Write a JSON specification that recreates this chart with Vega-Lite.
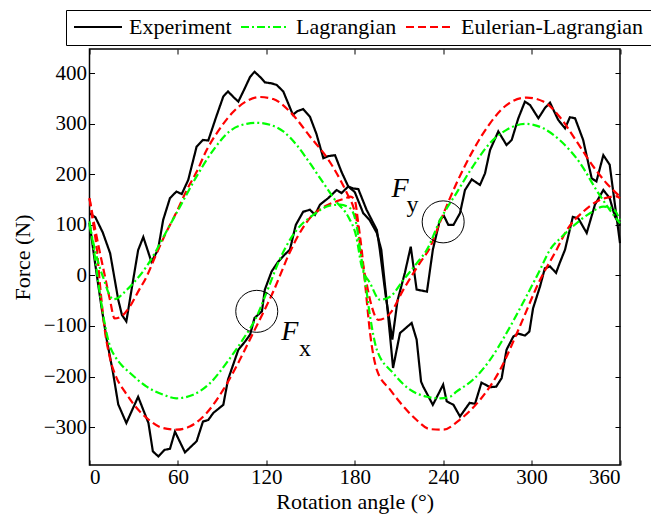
{
  "$schema": "https://vega.github.io/schema/vega-lite/v6.json",
  "width": 530.5,
  "height": 416,
  "autosize": {"type": "none"},
  "padding": {"left": 89.5, "top": 49, "right": 31, "bottom": 57},
  "background": "white",
  "config": {
    "view": {"stroke": "black", "strokeWidth": 1.5},
    "font": "Liberation Serif",
    "axis": {
      "labelFont": "Liberation Serif", "labelFontSize": 21, "labelColor": "black",
      "titleFont": "Liberation Serif", "titleFontSize": 22, "titleFontWeight": "normal", "titleColor": "black",
      "tickColor": "black", "tickSize": -5, "tickWidth": 1, "domain": false, "grid": false
    },
    "legend": {"labelFont": "Liberation Serif", "labelLimit": 0}
  },
  "datasets": {
    "models": [
      {"series": "Eulerian-Lagrangian", "comp": "Fy", "x": 0, "y": 153}, {"series": "Eulerian-Lagrangian", "comp": "Fy", "x": 3, "y": 105}, {"series": "Eulerian-Lagrangian", "comp": "Fy", "x": 6, "y": 60}, {"series": "Eulerian-Lagrangian", "comp": "Fy", "x": 10, "y": 5}, {"series": "Eulerian-Lagrangian", "comp": "Fy", "x": 14, "y": -50}, {"series": "Eulerian-Lagrangian", "comp": "Fy", "x": 17, "y": -85}, {"series": "Eulerian-Lagrangian", "comp": "Fy", "x": 21, "y": -82}, {"series": "Eulerian-Lagrangian", "comp": "Fy", "x": 27.5, "y": -61}, {"series": "Eulerian-Lagrangian", "comp": "Fy", "x": 33, "y": -32}, {"series": "Eulerian-Lagrangian", "comp": "Fy", "x": 38.8, "y": -2}, {"series": "Eulerian-Lagrangian", "comp": "Fy", "x": 45, "y": 40}, {"series": "Eulerian-Lagrangian", "comp": "Fy", "x": 52, "y": 85}, {"series": "Eulerian-Lagrangian", "comp": "Fy", "x": 59, "y": 125}, {"series": "Eulerian-Lagrangian", "comp": "Fy", "x": 66, "y": 169}, {"series": "Eulerian-Lagrangian", "comp": "Fy", "x": 72.7, "y": 205}, {"series": "Eulerian-Lagrangian", "comp": "Fy", "x": 79.5, "y": 248}, {"series": "Eulerian-Lagrangian", "comp": "Fy", "x": 88.6, "y": 291}, {"series": "Eulerian-Lagrangian", "comp": "Fy", "x": 97.6, "y": 324}, {"series": "Eulerian-Lagrangian", "comp": "Fy", "x": 106.7, "y": 345}, {"series": "Eulerian-Lagrangian", "comp": "Fy", "x": 115.7, "y": 353}, {"series": "Eulerian-Lagrangian", "comp": "Fy", "x": 124.7, "y": 349}, {"series": "Eulerian-Lagrangian", "comp": "Fy", "x": 136, "y": 324}, {"series": "Eulerian-Lagrangian", "comp": "Fy", "x": 149.6, "y": 275}, {"series": "Eulerian-Lagrangian", "comp": "Fy", "x": 163, "y": 225}, {"series": "Eulerian-Lagrangian", "comp": "Fy", "x": 172, "y": 179}, {"series": "Eulerian-Lagrangian", "comp": "Fy", "x": 176, "y": 155}, {"series": "Eulerian-Lagrangian", "comp": "Fy", "x": 179, "y": 136}, {"series": "Eulerian-Lagrangian", "comp": "Fy", "x": 182.4, "y": 90}, {"series": "Eulerian-Lagrangian", "comp": "Fy", "x": 184, "y": 51}, {"series": "Eulerian-Lagrangian", "comp": "Fy", "x": 188, "y": -15}, {"series": "Eulerian-Lagrangian", "comp": "Fy", "x": 191.5, "y": -61}, {"series": "Eulerian-Lagrangian", "comp": "Fy", "x": 196, "y": -88}, {"series": "Eulerian-Lagrangian", "comp": "Fy", "x": 204, "y": -75}, {"series": "Eulerian-Lagrangian", "comp": "Fy", "x": 213, "y": -28}, {"series": "Eulerian-Lagrangian", "comp": "Fy", "x": 224, "y": 24}, {"series": "Eulerian-Lagrangian", "comp": "Fy", "x": 231, "y": 55}, {"series": "Eulerian-Lagrangian", "comp": "Fy", "x": 237.8, "y": 105}, {"series": "Eulerian-Lagrangian", "comp": "Fy", "x": 249, "y": 182}, {"series": "Eulerian-Lagrangian", "comp": "Fy", "x": 260.4, "y": 248}, {"series": "Eulerian-Lagrangian", "comp": "Fy", "x": 271.8, "y": 301}, {"series": "Eulerian-Lagrangian", "comp": "Fy", "x": 283, "y": 337}, {"series": "Eulerian-Lagrangian", "comp": "Fy", "x": 296.7, "y": 352}, {"series": "Eulerian-Lagrangian", "comp": "Fy", "x": 308, "y": 344}, {"series": "Eulerian-Lagrangian", "comp": "Fy", "x": 319, "y": 314}, {"series": "Eulerian-Lagrangian", "comp": "Fy", "x": 330.6, "y": 265}, {"series": "Eulerian-Lagrangian", "comp": "Fy", "x": 342, "y": 215}, {"series": "Eulerian-Lagrangian", "comp": "Fy", "x": 351, "y": 182}, {"series": "Eulerian-Lagrangian", "comp": "Fy", "x": 360, "y": 156},
      {"series": "Eulerian-Lagrangian", "comp": "Fx", "x": 0, "y": 152}, {"series": "Eulerian-Lagrangian", "comp": "Fx", "x": 2.5, "y": 103}, {"series": "Eulerian-Lagrangian", "comp": "Fx", "x": 5, "y": 51}, {"series": "Eulerian-Lagrangian", "comp": "Fx", "x": 7, "y": -15}, {"series": "Eulerian-Lagrangian", "comp": "Fx", "x": 10.5, "y": -110}, {"series": "Eulerian-Lagrangian", "comp": "Fx", "x": 14, "y": -165}, {"series": "Eulerian-Lagrangian", "comp": "Fx", "x": 18, "y": -200}, {"series": "Eulerian-Lagrangian", "comp": "Fx", "x": 24, "y": -230}, {"series": "Eulerian-Lagrangian", "comp": "Fx", "x": 30, "y": -255}, {"series": "Eulerian-Lagrangian", "comp": "Fx", "x": 38.8, "y": -282}, {"series": "Eulerian-Lagrangian", "comp": "Fx", "x": 50, "y": -302}, {"series": "Eulerian-Lagrangian", "comp": "Fx", "x": 59, "y": -305}, {"series": "Eulerian-Lagrangian", "comp": "Fx", "x": 68, "y": -299}, {"series": "Eulerian-Lagrangian", "comp": "Fx", "x": 79.5, "y": -272}, {"series": "Eulerian-Lagrangian", "comp": "Fx", "x": 90.8, "y": -226}, {"series": "Eulerian-Lagrangian", "comp": "Fx", "x": 102, "y": -167}, {"series": "Eulerian-Lagrangian", "comp": "Fx", "x": 111, "y": -114}, {"series": "Eulerian-Lagrangian", "comp": "Fx", "x": 120, "y": -61}, {"series": "Eulerian-Lagrangian", "comp": "Fx", "x": 125, "y": -30}, {"series": "Eulerian-Lagrangian", "comp": "Fx", "x": 130, "y": 5}, {"series": "Eulerian-Lagrangian", "comp": "Fx", "x": 135, "y": 40}, {"series": "Eulerian-Lagrangian", "comp": "Fx", "x": 140, "y": 70}, {"series": "Eulerian-Lagrangian", "comp": "Fx", "x": 145, "y": 95}, {"series": "Eulerian-Lagrangian", "comp": "Fx", "x": 150, "y": 115}, {"series": "Eulerian-Lagrangian", "comp": "Fx", "x": 156, "y": 130}, {"series": "Eulerian-Lagrangian", "comp": "Fx", "x": 162, "y": 140}, {"series": "Eulerian-Lagrangian", "comp": "Fx", "x": 168, "y": 147}, {"series": "Eulerian-Lagrangian", "comp": "Fx", "x": 174, "y": 153}, {"series": "Eulerian-Lagrangian", "comp": "Fx", "x": 177, "y": 156}, {"series": "Eulerian-Lagrangian", "comp": "Fx", "x": 180, "y": 149}, {"series": "Eulerian-Lagrangian", "comp": "Fx", "x": 182.4, "y": 103}, {"series": "Eulerian-Lagrangian", "comp": "Fx", "x": 184.7, "y": 51}, {"series": "Eulerian-Lagrangian", "comp": "Fx", "x": 187, "y": -15}, {"series": "Eulerian-Lagrangian", "comp": "Fx", "x": 190.4, "y": -114}, {"series": "Eulerian-Lagrangian", "comp": "Fx", "x": 195, "y": -187}, {"series": "Eulerian-Lagrangian", "comp": "Fx", "x": 204, "y": -226}, {"series": "Eulerian-Lagrangian", "comp": "Fx", "x": 213, "y": -259}, {"series": "Eulerian-Lagrangian", "comp": "Fx", "x": 222, "y": -286}, {"series": "Eulerian-Lagrangian", "comp": "Fx", "x": 231, "y": -304}, {"series": "Eulerian-Lagrangian", "comp": "Fx", "x": 240, "y": -305}, {"series": "Eulerian-Lagrangian", "comp": "Fx", "x": 251, "y": -286}, {"series": "Eulerian-Lagrangian", "comp": "Fx", "x": 265, "y": -246}, {"series": "Eulerian-Lagrangian", "comp": "Fx", "x": 278.6, "y": -187}, {"series": "Eulerian-Lagrangian", "comp": "Fx", "x": 292, "y": -101}, {"series": "Eulerian-Lagrangian", "comp": "Fx", "x": 305.7, "y": -9}, {"series": "Eulerian-Lagrangian", "comp": "Fx", "x": 317, "y": 51}, {"series": "Eulerian-Lagrangian", "comp": "Fx", "x": 324, "y": 90}, {"series": "Eulerian-Lagrangian", "comp": "Fx", "x": 335, "y": 126}, {"series": "Eulerian-Lagrangian", "comp": "Fx", "x": 346, "y": 149}, {"series": "Eulerian-Lagrangian", "comp": "Fx", "x": 353, "y": 155}, {"series": "Eulerian-Lagrangian", "comp": "Fx", "x": 357, "y": 157}, {"series": "Eulerian-Lagrangian", "comp": "Fx", "x": 360, "y": 153},
      {"series": "Lagrangian", "comp": "Fy", "x": 0, "y": 100}, {"series": "Lagrangian", "comp": "Fy", "x": 3, "y": 60}, {"series": "Lagrangian", "comp": "Fy", "x": 6, "y": 25}, {"series": "Lagrangian", "comp": "Fy", "x": 10, "y": -10}, {"series": "Lagrangian", "comp": "Fy", "x": 13, "y": -35}, {"series": "Lagrangian", "comp": "Fy", "x": 16, "y": -47}, {"series": "Lagrangian", "comp": "Fy", "x": 19, "y": -45}, {"series": "Lagrangian", "comp": "Fy", "x": 23, "y": -35}, {"series": "Lagrangian", "comp": "Fy", "x": 29.7, "y": -15}, {"series": "Lagrangian", "comp": "Fy", "x": 38.8, "y": 18}, {"series": "Lagrangian", "comp": "Fy", "x": 45.6, "y": 51}, {"series": "Lagrangian", "comp": "Fy", "x": 50, "y": 75}, {"series": "Lagrangian", "comp": "Fy", "x": 61.4, "y": 136}, {"series": "Lagrangian", "comp": "Fy", "x": 72.7, "y": 196}, {"series": "Lagrangian", "comp": "Fy", "x": 84, "y": 248}, {"series": "Lagrangian", "comp": "Fy", "x": 95, "y": 285}, {"series": "Lagrangian", "comp": "Fy", "x": 106.7, "y": 300}, {"series": "Lagrangian", "comp": "Fy", "x": 113.5, "y": 302}, {"series": "Lagrangian", "comp": "Fy", "x": 122.5, "y": 298}, {"series": "Lagrangian", "comp": "Fy", "x": 131.5, "y": 285}, {"series": "Lagrangian", "comp": "Fy", "x": 140.6, "y": 258}, {"series": "Lagrangian", "comp": "Fy", "x": 149.6, "y": 222}, {"series": "Lagrangian", "comp": "Fy", "x": 158.7, "y": 183}, {"series": "Lagrangian", "comp": "Fy", "x": 167.7, "y": 145}, {"series": "Lagrangian", "comp": "Fy", "x": 175.6, "y": 116}, {"series": "Lagrangian", "comp": "Fy", "x": 181, "y": 77}, {"series": "Lagrangian", "comp": "Fy", "x": 184.7, "y": 18}, {"series": "Lagrangian", "comp": "Fy", "x": 190.4, "y": -15}, {"series": "Lagrangian", "comp": "Fy", "x": 197, "y": -48}, {"series": "Lagrangian", "comp": "Fy", "x": 204, "y": -42}, {"series": "Lagrangian", "comp": "Fy", "x": 213, "y": -9}, {"series": "Lagrangian", "comp": "Fy", "x": 222, "y": 24}, {"series": "Lagrangian", "comp": "Fy", "x": 229, "y": 51}, {"series": "Lagrangian", "comp": "Fy", "x": 238, "y": 110}, {"series": "Lagrangian", "comp": "Fy", "x": 249, "y": 163}, {"series": "Lagrangian", "comp": "Fy", "x": 260, "y": 215}, {"series": "Lagrangian", "comp": "Fy", "x": 271.8, "y": 262}, {"series": "Lagrangian", "comp": "Fy", "x": 283, "y": 288}, {"series": "Lagrangian", "comp": "Fy", "x": 295.5, "y": 300}, {"series": "Lagrangian", "comp": "Fy", "x": 308, "y": 291}, {"series": "Lagrangian", "comp": "Fy", "x": 319, "y": 268}, {"series": "Lagrangian", "comp": "Fy", "x": 333, "y": 222}, {"series": "Lagrangian", "comp": "Fy", "x": 344, "y": 169}, {"series": "Lagrangian", "comp": "Fy", "x": 353, "y": 130}, {"series": "Lagrangian", "comp": "Fy", "x": 360, "y": 103},
      {"series": "Lagrangian", "comp": "Fx", "x": 0, "y": 107}, {"series": "Lagrangian", "comp": "Fx", "x": 3, "y": 50}, {"series": "Lagrangian", "comp": "Fx", "x": 7, "y": -35}, {"series": "Lagrangian", "comp": "Fx", "x": 10, "y": -90}, {"series": "Lagrangian", "comp": "Fx", "x": 14, "y": -141}, {"series": "Lagrangian", "comp": "Fx", "x": 17.3, "y": -160}, {"series": "Lagrangian", "comp": "Fx", "x": 22, "y": -178}, {"series": "Lagrangian", "comp": "Fx", "x": 27.5, "y": -193}, {"series": "Lagrangian", "comp": "Fx", "x": 38.8, "y": -220}, {"series": "Lagrangian", "comp": "Fx", "x": 50, "y": -236}, {"series": "Lagrangian", "comp": "Fx", "x": 59, "y": -243}, {"series": "Lagrangian", "comp": "Fx", "x": 70.4, "y": -236}, {"series": "Lagrangian", "comp": "Fx", "x": 81.8, "y": -213}, {"series": "Lagrangian", "comp": "Fx", "x": 93, "y": -173}, {"series": "Lagrangian", "comp": "Fx", "x": 104, "y": -127}, {"series": "Lagrangian", "comp": "Fx", "x": 113.5, "y": -81}, {"series": "Lagrangian", "comp": "Fx", "x": 120, "y": -35}, {"series": "Lagrangian", "comp": "Fx", "x": 129, "y": 31}, {"series": "Lagrangian", "comp": "Fx", "x": 133, "y": 55}, {"series": "Lagrangian", "comp": "Fx", "x": 140.6, "y": 90}, {"series": "Lagrangian", "comp": "Fx", "x": 151.9, "y": 120}, {"series": "Lagrangian", "comp": "Fx", "x": 163, "y": 138}, {"series": "Lagrangian", "comp": "Fx", "x": 170, "y": 140}, {"series": "Lagrangian", "comp": "Fx", "x": 176.8, "y": 133}, {"series": "Lagrangian", "comp": "Fx", "x": 181, "y": 103}, {"series": "Lagrangian", "comp": "Fx", "x": 183.6, "y": 51}, {"series": "Lagrangian", "comp": "Fx", "x": 187, "y": -10}, {"series": "Lagrangian", "comp": "Fx", "x": 190.4, "y": -81}, {"series": "Lagrangian", "comp": "Fx", "x": 195, "y": -147}, {"series": "Lagrangian", "comp": "Fx", "x": 206, "y": -193}, {"series": "Lagrangian", "comp": "Fx", "x": 217.5, "y": -226}, {"series": "Lagrangian", "comp": "Fx", "x": 229, "y": -240}, {"series": "Lagrangian", "comp": "Fx", "x": 238, "y": -243}, {"series": "Lagrangian", "comp": "Fx", "x": 244.6, "y": -240}, {"series": "Lagrangian", "comp": "Fx", "x": 249, "y": -230}, {"series": "Lagrangian", "comp": "Fx", "x": 260.4, "y": -206}, {"series": "Lagrangian", "comp": "Fx", "x": 271.8, "y": -167}, {"series": "Lagrangian", "comp": "Fx", "x": 283, "y": -114}, {"series": "Lagrangian", "comp": "Fx", "x": 294, "y": -55}, {"series": "Lagrangian", "comp": "Fx", "x": 305.7, "y": 11}, {"series": "Lagrangian", "comp": "Fx", "x": 312.5, "y": 51}, {"series": "Lagrangian", "comp": "Fx", "x": 320, "y": 75}, {"series": "Lagrangian", "comp": "Fx", "x": 328, "y": 97}, {"series": "Lagrangian", "comp": "Fx", "x": 339.6, "y": 123}, {"series": "Lagrangian", "comp": "Fx", "x": 348.7, "y": 136}, {"series": "Lagrangian", "comp": "Fx", "x": 355, "y": 133}, {"series": "Lagrangian", "comp": "Fx", "x": 360, "y": 110}
    ],
    "experiment": [
      {"series": "Experiment", "comp": "Fy", "x": 0, "y": 123}, {"series": "Experiment", "comp": "Fy", "x": 4, "y": 115}, {"series": "Experiment", "comp": "Fy", "x": 9, "y": 85}, {"series": "Experiment", "comp": "Fy", "x": 14, "y": 44}, {"series": "Experiment", "comp": "Fy", "x": 19.5, "y": -48}, {"series": "Experiment", "comp": "Fy", "x": 22, "y": -78}, {"series": "Experiment", "comp": "Fy", "x": 25, "y": -91}, {"series": "Experiment", "comp": "Fy", "x": 29, "y": -20}, {"series": "Experiment", "comp": "Fy", "x": 33, "y": 50}, {"series": "Experiment", "comp": "Fy", "x": 36.5, "y": 76}, {"series": "Experiment", "comp": "Fy", "x": 40, "y": 45}, {"series": "Experiment", "comp": "Fy", "x": 42, "y": 27}, {"series": "Experiment", "comp": "Fy", "x": 46.5, "y": 51}, {"series": "Experiment", "comp": "Fy", "x": 50, "y": 110}, {"series": "Experiment", "comp": "Fy", "x": 54.6, "y": 153}, {"series": "Experiment", "comp": "Fy", "x": 59, "y": 166}, {"series": "Experiment", "comp": "Fy", "x": 62.6, "y": 161}, {"series": "Experiment", "comp": "Fy", "x": 67, "y": 189}, {"series": "Experiment", "comp": "Fy", "x": 72.7, "y": 255}, {"series": "Experiment", "comp": "Fy", "x": 77, "y": 268}, {"series": "Experiment", "comp": "Fy", "x": 80.6, "y": 267}, {"series": "Experiment", "comp": "Fy", "x": 86, "y": 314}, {"series": "Experiment", "comp": "Fy", "x": 90.8, "y": 354}, {"series": "Experiment", "comp": "Fy", "x": 94, "y": 364}, {"series": "Experiment", "comp": "Fy", "x": 98, "y": 352}, {"series": "Experiment", "comp": "Fy", "x": 101, "y": 344}, {"series": "Experiment", "comp": "Fy", "x": 105, "y": 368}, {"series": "Experiment", "comp": "Fy", "x": 109, "y": 393}, {"series": "Experiment", "comp": "Fy", "x": 112, "y": 403}, {"series": "Experiment", "comp": "Fy", "x": 116, "y": 392}, {"series": "Experiment", "comp": "Fy", "x": 119, "y": 382}, {"series": "Experiment", "comp": "Fy", "x": 123.6, "y": 380}, {"series": "Experiment", "comp": "Fy", "x": 127, "y": 377}, {"series": "Experiment", "comp": "Fy", "x": 131.5, "y": 364}, {"series": "Experiment", "comp": "Fy", "x": 138, "y": 318}, {"series": "Experiment", "comp": "Fy", "x": 141, "y": 325}, {"series": "Experiment", "comp": "Fy", "x": 145, "y": 329}, {"series": "Experiment", "comp": "Fy", "x": 149.6, "y": 314}, {"series": "Experiment", "comp": "Fy", "x": 154, "y": 280}, {"series": "Experiment", "comp": "Fy", "x": 158.7, "y": 232}, {"series": "Experiment", "comp": "Fy", "x": 162, "y": 236}, {"series": "Experiment", "comp": "Fy", "x": 166.6, "y": 238}, {"series": "Experiment", "comp": "Fy", "x": 171, "y": 205}, {"series": "Experiment", "comp": "Fy", "x": 175.6, "y": 176}, {"series": "Experiment", "comp": "Fy", "x": 179, "y": 172}, {"series": "Experiment", "comp": "Fy", "x": 182.4, "y": 171}, {"series": "Experiment", "comp": "Fy", "x": 188, "y": 130}, {"series": "Experiment", "comp": "Fy", "x": 195, "y": 90}, {"series": "Experiment", "comp": "Fy", "x": 197, "y": 51}, {"series": "Experiment", "comp": "Fy", "x": 201, "y": -40}, {"series": "Experiment", "comp": "Fy", "x": 205.5, "y": -127}, {"series": "Experiment", "comp": "Fy", "x": 209, "y": -50}, {"series": "Experiment", "comp": "Fy", "x": 214, "y": 5}, {"series": "Experiment", "comp": "Fy", "x": 218, "y": 57}, {"series": "Experiment", "comp": "Fy", "x": 222, "y": -28}, {"series": "Experiment", "comp": "Fy", "x": 229, "y": -32}, {"series": "Experiment", "comp": "Fy", "x": 233, "y": 51}, {"series": "Experiment", "comp": "Fy", "x": 237.8, "y": 110}, {"series": "Experiment", "comp": "Fy", "x": 240.5, "y": 118}, {"series": "Experiment", "comp": "Fy", "x": 243.5, "y": 100}, {"series": "Experiment", "comp": "Fy", "x": 247, "y": 100}, {"series": "Experiment", "comp": "Fy", "x": 251.4, "y": 123}, {"series": "Experiment", "comp": "Fy", "x": 254.8, "y": 169}, {"series": "Experiment", "comp": "Fy", "x": 259.4, "y": 190}, {"series": "Experiment", "comp": "Fy", "x": 265, "y": 179}, {"series": "Experiment", "comp": "Fy", "x": 268.4, "y": 202}, {"series": "Experiment", "comp": "Fy", "x": 271.8, "y": 248}, {"series": "Experiment", "comp": "Fy", "x": 277.4, "y": 285}, {"series": "Experiment", "comp": "Fy", "x": 283, "y": 258}, {"series": "Experiment", "comp": "Fy", "x": 286.5, "y": 268}, {"series": "Experiment", "comp": "Fy", "x": 291, "y": 311}, {"series": "Experiment", "comp": "Fy", "x": 295.5, "y": 344}, {"series": "Experiment", "comp": "Fy", "x": 299, "y": 337}, {"series": "Experiment", "comp": "Fy", "x": 304.6, "y": 311}, {"series": "Experiment", "comp": "Fy", "x": 309, "y": 331}, {"series": "Experiment", "comp": "Fy", "x": 312.5, "y": 342}, {"series": "Experiment", "comp": "Fy", "x": 318, "y": 308}, {"series": "Experiment", "comp": "Fy", "x": 322.7, "y": 291}, {"series": "Experiment", "comp": "Fy", "x": 326, "y": 313}, {"series": "Experiment", "comp": "Fy", "x": 329.5, "y": 311}, {"series": "Experiment", "comp": "Fy", "x": 335, "y": 268}, {"series": "Experiment", "comp": "Fy", "x": 340.8, "y": 192}, {"series": "Experiment", "comp": "Fy", "x": 344, "y": 186}, {"series": "Experiment", "comp": "Fy", "x": 348.7, "y": 238}, {"series": "Experiment", "comp": "Fy", "x": 353, "y": 219}, {"series": "Experiment", "comp": "Fy", "x": 360, "y": 64},
      {"series": "Experiment", "comp": "Fx", "x": 0, "y": 104}, {"series": "Experiment", "comp": "Fx", "x": 4, "y": 20}, {"series": "Experiment", "comp": "Fx", "x": 8, "y": -60}, {"series": "Experiment", "comp": "Fx", "x": 11.7, "y": -127}, {"series": "Experiment", "comp": "Fx", "x": 16, "y": -193}, {"series": "Experiment", "comp": "Fx", "x": 19.5, "y": -255}, {"series": "Experiment", "comp": "Fx", "x": 25, "y": -292}, {"series": "Experiment", "comp": "Fx", "x": 33, "y": -240}, {"series": "Experiment", "comp": "Fx", "x": 40, "y": -292}, {"series": "Experiment", "comp": "Fx", "x": 43, "y": -348}, {"series": "Experiment", "comp": "Fx", "x": 46.7, "y": -358}, {"series": "Experiment", "comp": "Fx", "x": 51, "y": -345}, {"series": "Experiment", "comp": "Fx", "x": 54.6, "y": -343}, {"series": "Experiment", "comp": "Fx", "x": 58, "y": -309}, {"series": "Experiment", "comp": "Fx", "x": 64.8, "y": -350}, {"series": "Experiment", "comp": "Fx", "x": 72.7, "y": -328}, {"series": "Experiment", "comp": "Fx", "x": 77, "y": -289}, {"series": "Experiment", "comp": "Fx", "x": 80.6, "y": -286}, {"series": "Experiment", "comp": "Fx", "x": 84, "y": -272}, {"series": "Experiment", "comp": "Fx", "x": 90.8, "y": -256}, {"series": "Experiment", "comp": "Fx", "x": 94, "y": -206}, {"series": "Experiment", "comp": "Fx", "x": 101, "y": -147}, {"series": "Experiment", "comp": "Fx", "x": 105.5, "y": -131}, {"series": "Experiment", "comp": "Fx", "x": 109, "y": -117}, {"series": "Experiment", "comp": "Fx", "x": 112, "y": -84}, {"series": "Experiment", "comp": "Fx", "x": 117, "y": -71}, {"series": "Experiment", "comp": "Fx", "x": 119, "y": -28}, {"series": "Experiment", "comp": "Fx", "x": 123.6, "y": 8}, {"series": "Experiment", "comp": "Fx", "x": 128, "y": 27}, {"series": "Experiment", "comp": "Fx", "x": 132, "y": 40}, {"series": "Experiment", "comp": "Fx", "x": 136, "y": 51}, {"series": "Experiment", "comp": "Fx", "x": 140, "y": 100}, {"series": "Experiment", "comp": "Fx", "x": 145, "y": 126}, {"series": "Experiment", "comp": "Fx", "x": 149.6, "y": 130}, {"series": "Experiment", "comp": "Fx", "x": 153, "y": 120}, {"series": "Experiment", "comp": "Fx", "x": 156.4, "y": 140}, {"series": "Experiment", "comp": "Fx", "x": 162, "y": 153}, {"series": "Experiment", "comp": "Fx", "x": 167.7, "y": 169}, {"series": "Experiment", "comp": "Fx", "x": 171, "y": 163}, {"series": "Experiment", "comp": "Fx", "x": 175.6, "y": 176}, {"series": "Experiment", "comp": "Fx", "x": 180, "y": 165}, {"series": "Experiment", "comp": "Fx", "x": 185.8, "y": 123}, {"series": "Experiment", "comp": "Fx", "x": 190, "y": 110}, {"series": "Experiment", "comp": "Fx", "x": 195, "y": 84}, {"series": "Experiment", "comp": "Fx", "x": 198, "y": 51}, {"series": "Experiment", "comp": "Fx", "x": 202, "y": -60}, {"series": "Experiment", "comp": "Fx", "x": 206, "y": -183}, {"series": "Experiment", "comp": "Fx", "x": 210.7, "y": -114}, {"series": "Experiment", "comp": "Fx", "x": 218.6, "y": -94}, {"series": "Experiment", "comp": "Fx", "x": 222, "y": -127}, {"series": "Experiment", "comp": "Fx", "x": 225, "y": -210}, {"series": "Experiment", "comp": "Fx", "x": 226.5, "y": -220}, {"series": "Experiment", "comp": "Fx", "x": 233, "y": -256}, {"series": "Experiment", "comp": "Fx", "x": 240, "y": -216}, {"series": "Experiment", "comp": "Fx", "x": 242.4, "y": -249}, {"series": "Experiment", "comp": "Fx", "x": 247, "y": -256}, {"series": "Experiment", "comp": "Fx", "x": 251.4, "y": -279}, {"series": "Experiment", "comp": "Fx", "x": 258, "y": -252}, {"series": "Experiment", "comp": "Fx", "x": 261.6, "y": -254}, {"series": "Experiment", "comp": "Fx", "x": 266, "y": -212}, {"series": "Experiment", "comp": "Fx", "x": 271.8, "y": -221}, {"series": "Experiment", "comp": "Fx", "x": 276, "y": -220}, {"series": "Experiment", "comp": "Fx", "x": 279.7, "y": -203}, {"series": "Experiment", "comp": "Fx", "x": 283, "y": -147}, {"series": "Experiment", "comp": "Fx", "x": 287.6, "y": -121}, {"series": "Experiment", "comp": "Fx", "x": 291, "y": -115}, {"series": "Experiment", "comp": "Fx", "x": 295.5, "y": -119}, {"series": "Experiment", "comp": "Fx", "x": 298.5, "y": -111}, {"series": "Experiment", "comp": "Fx", "x": 301, "y": -65}, {"series": "Experiment", "comp": "Fx", "x": 305.7, "y": -22}, {"series": "Experiment", "comp": "Fx", "x": 309, "y": 14}, {"series": "Experiment", "comp": "Fx", "x": 312.5, "y": 18}, {"series": "Experiment", "comp": "Fx", "x": 316.6, "y": 5}, {"series": "Experiment", "comp": "Fx", "x": 319, "y": 24}, {"series": "Experiment", "comp": "Fx", "x": 322.7, "y": 51}, {"series": "Experiment", "comp": "Fx", "x": 328, "y": 116}, {"series": "Experiment", "comp": "Fx", "x": 331.7, "y": 113}, {"series": "Experiment", "comp": "Fx", "x": 337.4, "y": 84}, {"series": "Experiment", "comp": "Fx", "x": 343, "y": 140}, {"series": "Experiment", "comp": "Fx", "x": 348.7, "y": 169}, {"series": "Experiment", "comp": "Fx", "x": 353, "y": 153}, {"series": "Experiment", "comp": "Fx", "x": 356.6, "y": 116}, {"series": "Experiment", "comp": "Fx", "x": 360, "y": 100}
    ],
    "circles": [
      {"x": 240, "y": 106},
      {"x": 113.5, "y": -71}
    ],
    "symbols": [
      {"t": "F", "x": 210.7, "y": 155},
      {"t": "F", "x": 136, "y": -127}
    ],
    "subscripts": [
      {"t": "y", "x": 219.2, "y": 126},
      {"t": "x", "x": 146.2, "y": -160}
    ]
  },
  "layer": [
    {
      "layer": [
        {
          "data": {"name": "experiment"},
          "mark": {"type": "line", "strokeWidth": 2.2, "strokeJoin": "miter"},
          "encoding": {
            "x": {"field": "x", "type": "quantitative", "scale": {"domain": [0, 360], "nice": false, "zero": false},
              "axis": {"orient": "bottom", "values": [0, 60, 120, 180, 240, 300, 360], "title": "Rotation angle (°)", "labelFont": "Liberation Serif", "titleFont": "Liberation Serif", "labelPadding": 6, "titlePadding": 4}},
            "y": {"field": "y", "type": "quantitative", "scale": {"domain": [-375, 448], "nice": false, "zero": false},
              "axis": {"orient": "left", "values": [-300, -200, -100, 0, 100, 200, 300, 400], "title": "Force (N)", "labelFont": "Liberation Serif", "titleFont": "Liberation Serif", "labelPadding": 8, "titlePadding": 9}},
            "color": {"field": "series", "type": "nominal",
              "scale": {"domain": ["Experiment", "Lagrangian", "Eulerian-Lagrangian"], "range": ["#000000", "#00ff00", "#ff0000"]},
              "legend": {"orient": "none", "legendX": -23.5, "legendY": -39, "direction": "horizontal", "title": null,
                "symbolType": "stroke", "symbolSize": 2304, "symbolStrokeWidth": 2, "clipHeight": 20, "labelFont": "Liberation Serif", "labelFontSize": 22, "labelColor": "black", "labelLimit": 0,
                "labelOffset": 6, "columnPadding": 8, "padding": 7, "strokeColor": "black", "fillColor": "white"}},
            "strokeDash": {"field": "series", "type": "nominal",
              "scale": {"domain": ["Experiment", "Lagrangian", "Eulerian-Lagrangian"], "range": [[1, 0], [8, 3, 2, 3], [8, 4]]},
              "legend": {"orient": "none", "legendX": -23.5, "legendY": -39, "direction": "horizontal", "title": null,
                "symbolType": "stroke", "symbolSize": 2304, "symbolStrokeWidth": 2, "clipHeight": 20, "labelFont": "Liberation Serif", "labelFontSize": 22, "labelColor": "black", "labelLimit": 0,
                "labelOffset": 6, "columnPadding": 8, "padding": 7, "strokeColor": "black", "fillColor": "white"}},
            "detail": {"field": "comp"}
          }
        },
        {
          "data": {"name": "models"},
          "mark": {"type": "line", "strokeWidth": 2.2, "interpolate": "monotone"},
          "encoding": {
            "x": {"field": "x", "type": "quantitative"},
            "y": {"field": "y", "type": "quantitative"},
            "color": {"field": "series", "type": "nominal"},
            "strokeDash": {"field": "series", "type": "nominal"},
            "detail": {"field": "comp"}
          }
        },
        {
          "data": {"name": "circles"},
          "mark": {"type": "point", "shape": "circle", "size": 1764, "stroke": "black", "strokeWidth": 1, "filled": false, "opacity": 1},
          "encoding": {
            "x": {"field": "x", "type": "quantitative"},
            "y": {"field": "y", "type": "quantitative"}
          }
        },
        {
          "data": {"name": "symbols"},
          "mark": {"type": "text", "font": "Liberation Serif", "fontStyle": "italic", "fontSize": 28, "align": "center", "baseline": "alphabetic", "color": "black"},
          "encoding": {
            "x": {"field": "x", "type": "quantitative"},
            "y": {"field": "y", "type": "quantitative"},
            "text": {"field": "t"}
          }
        },
        {
          "data": {"name": "subscripts"},
          "mark": {"type": "text", "font": "Liberation Serif", "fontSize": 24, "align": "center", "baseline": "alphabetic", "color": "black"},
          "encoding": {
            "x": {"field": "x", "type": "quantitative"},
            "y": {"field": "y", "type": "quantitative"},
            "text": {"field": "t"}
          }
        }
      ]
    },
    {
      "data": {"name": "circles"},
      "mark": {"type": "point", "opacity": 0},
      "encoding": {
        "x": {"field": "x", "type": "quantitative", "scale": {"domain": [0, 360], "nice": false, "zero": false},
          "axis": {"orient": "top", "values": [0, 60, 120, 180, 240, 300, 360], "labels": false, "title": null}},
        "y": {"field": "y", "type": "quantitative", "scale": {"domain": [-375, 448], "nice": false, "zero": false},
          "axis": {"orient": "right", "values": [-300, -200, -100, 0, 100, 200, 300, 400], "labels": false, "title": null}}
      }
    }
  ],
  "resolve": {"scale": {"x": "independent", "y": "independent"}}
}
